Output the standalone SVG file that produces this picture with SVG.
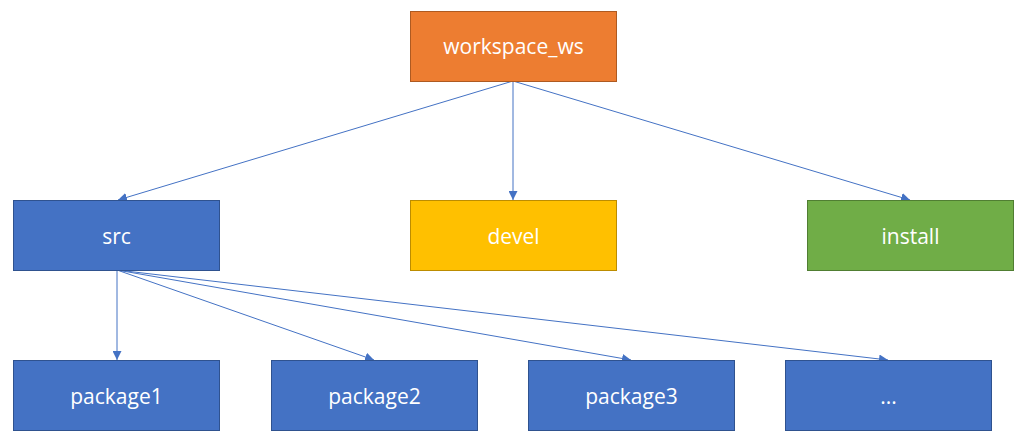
<svg xmlns="http://www.w3.org/2000/svg" width="1023" height="448" viewBox="0 0 1023 448">
<style>
.n rect{stroke-width:1}
.blue rect{fill:#4472C4;stroke:#2F528F}
.orange rect{fill:#ED7D31;stroke:#AE5A21}
.gold rect{fill:#FFC000;stroke:#BC8C00}
.green rect{fill:#70AD47;stroke:#507E32}
.n text{font-family:"Open Sans","Noto Sans",sans-serif;font-size:21px;fill:#FFFFFF;text-anchor:middle;dominant-baseline:central}
#connectors line{stroke:#4472C4;stroke-width:1;fill:none;marker-end:url(#arr)}
</style>
<defs>
<marker id="arr" viewBox="0 0 10 10" refX="10" refY="5" markerWidth="9" markerHeight="9" markerUnits="userSpaceOnUse" orient="auto">
<path d="M0,0 L10,5 L0,10 z" fill="#4472C4"/>
</marker>
</defs>
<rect width="1023" height="448" fill="#FFFFFF"/>
<g id="connectors">
<line x1="513" y1="81" x2="118" y2="200"/>
<line x1="513" y1="81" x2="513" y2="200"/>
<line x1="513" y1="81" x2="910" y2="200"/>
<line x1="117" y1="270" x2="117" y2="360"/>
<line x1="117" y1="270" x2="374" y2="360"/>
<line x1="117" y1="270" x2="631" y2="360"/>
<line x1="117" y1="270" x2="888" y2="360"/>
</g>
<g id="workspace_ws" class="n orange"><rect x="410.5" y="11.5" width="206" height="70"/><text x="513.5" y="46">workspace_ws</text></g>
<g id="src" class="n blue"><rect x="13.5" y="200.5" width="206" height="70"/><text x="116.5" y="236">src</text></g>
<g id="devel" class="n gold"><rect x="410.5" y="200.5" width="206" height="70"/><text x="513.5" y="236">devel</text></g>
<g id="install" class="n green"><rect x="807.5" y="200.5" width="206" height="70"/><text x="910.5" y="236">install</text></g>
<g id="package1" class="n blue"><rect x="13.5" y="360.5" width="206" height="70"/><text x="116.5" y="396">package1</text></g>
<g id="package2" class="n blue"><rect x="271.5" y="360.5" width="206" height="70"/><text x="374.5" y="396">package2</text></g>
<g id="package3" class="n blue"><rect x="528.5" y="360.5" width="206" height="70"/><text x="631.5" y="396">package3</text></g>
<g id="more" class="n blue"><rect x="785.5" y="360.5" width="206" height="70"/><text x="888.5" y="396">...</text></g>
</svg>
